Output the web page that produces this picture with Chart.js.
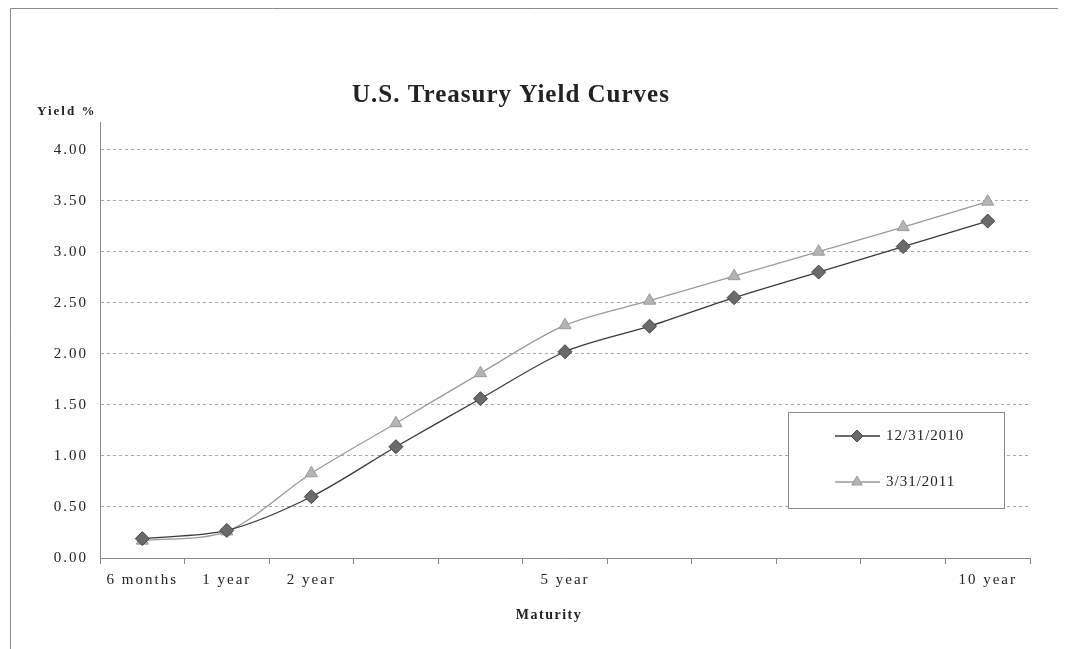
<!DOCTYPE html>
<html>
<head>
<meta charset="utf-8">
<title>U.S. Treasury Yield Curves</title>
<script src="https://cdn.jsdelivr.net/npm/chart.js@4.4.1/dist/chart.umd.min.js"></script>
<style>
  html, body { margin: 0; padding: 0; background: #fff; }
  #wrap { position: relative; width: 1074px; height: 649px; }
</style>
</head>
<body>
<div id="wrap"><canvas id="yield-chart" width="1074" height="649"></canvas></div>
<script>
// Yield curves

const maturities = ['6 months', '1 year', '2 year', '3 year', '4 year', '5 year', '6 year', '7 year', '8 year', '9 year', '10 year'];
const shownLabels = ['6 months', '1 year', '2 year', '5 year', '10 year'];
const yields2010 = [0.19, 0.27, 0.60, 1.09, 1.56, 2.02, 2.27, 2.55, 2.80, 3.05, 3.30];
const yields2011 = [0.17, 0.26, 0.83, 1.32, 1.81, 2.28, 2.52, 2.76, 3.00, 3.24, 3.49];
const yTicks = [0, 0.5, 1, 1.5, 2, 2.5, 3, 3.5, 4];

const SERIF = '"Liberation Serif", "DejaVu Serif", serif';

// frame, titles and boxed legend
const decorations = {
  id: 'decorations',
  beforeDraw(chart) {
    const ctx = chart.ctx;
    ctx.save();
    ctx.fillStyle = '#fff';
    ctx.fillRect(0, 0, chart.width, chart.height);
    ctx.strokeStyle = '#8a8a8a';
    ctx.lineWidth = 1;
    ctx.beginPath();
    ctx.moveTo(10.5, 660);
    ctx.lineTo(10.5, 8.5);
    ctx.lineTo(1058, 8.5);
    ctx.stroke();
    ctx.restore();
    // the scan's tick labels are widely spaced
    ctx.letterSpacing = '2px';
  },
  afterDraw(chart) {
    const ctx = chart.ctx;
    ctx.save();
    ctx.fillStyle = '#222';
    ctx.textBaseline = 'middle';
    ctx.textAlign = 'center';

    ctx.letterSpacing = '1px';
    ctx.font = `bold 25px ${SERIF}`;
    ctx.fillText('U.S. Treasury Yield Curves', 511, 96);

    ctx.letterSpacing = '2px';
    ctx.font = `bold 13px ${SERIF}`;
    ctx.textAlign = 'left';
    ctx.fillText('Yield %', 37, 112);

    ctx.letterSpacing = '1.5px';
    ctx.font = `bold 14px ${SERIF}`;
    ctx.textAlign = 'center';
    ctx.fillText('Maturity', 549, 615);

    // legend
    const bx = 788, by = 412, bw = 216, bh = 96;
    ctx.fillStyle = '#fff';
    ctx.fillRect(bx, by, bw, bh);
    ctx.strokeStyle = '#8a8a8a';
    ctx.lineWidth = 1;
    ctx.strokeRect(bx + 0.5, by + 0.5, bw, bh);

    const rows = [436, 482];
    chart.data.datasets.forEach((ds, i) => {
      const y = rows[i];
      ctx.strokeStyle = ds.borderColor;
      ctx.lineWidth = ds.borderWidth;
      ctx.beginPath();
      ctx.moveTo(835, y);
      ctx.lineTo(880, y);
      ctx.stroke();
      ctx.fillStyle = ds.pointBackgroundColor;
      ctx.strokeStyle = ds.pointBorderColor;
      ctx.lineWidth = 1;
      Chart.helpers.drawPoint(ctx, { pointStyle: ds.pointStyle, radius: ds.pointRadius - 1, rotation: 0, borderWidth: 1 }, 857, y);
      ctx.fillStyle = '#222';
      ctx.letterSpacing = '1px';
      ctx.font = `15px ${SERIF}`;
      ctx.textAlign = 'left';
      ctx.fillText(ds.label, 886, y);
    });
    ctx.restore();
  }
};

const ctx = document.getElementById('yield-chart').getContext('2d');

new Chart(ctx, {
  type: 'line',
  data: {
    labels: maturities,
    datasets: [
      {
        label: '12/31/2010',
        data: yields2010,
        borderColor: '#3a3a3a',
        borderWidth: 1.3,
        pointStyle: 'rectRot',
        pointRadius: 7,
        pointBackgroundColor: '#6a6a6a',
        pointBorderColor: '#444',
        pointBorderWidth: 1,
        tension: 0.3
      },
      {
        label: '3/31/2011',
        data: yields2011,
        borderColor: '#9a9a9a',
        borderWidth: 1.3,
        pointStyle: 'triangle',
        pointRadius: 7,
        pointBackgroundColor: '#b4b4b4',
        pointBorderColor: '#9a9a9a',
        pointBorderWidth: 1,
        tension: 0.3
      }
    ]
  },
  options: {
    responsive: false,
    animation: false,
    layout: { padding: { left: 0, top: 122, right: 44, bottom: 0 } },
    scales: {
      x: {
        offset: true,
        afterFit: (scale) => { scale.height = 91; },
        grid: {
          offset: true,
          drawOnChartArea: false,
          drawTicks: true,
          tickLength: 6,
          color: '#8a8a8a'
        },
        border: { color: '#8a8a8a', width: 1 },
        ticks: {
          autoSkip: false,
          maxRotation: 0,
          padding: 7,
          color: '#222',
          font: { family: SERIF, size: 15 },
          callback(value) {
            const lbl = this.getLabelForValue(value);
            return shownLabels.includes(lbl) ? lbl : '';
          }
        }
      },
      y: {
        min: 0,
        max: 4.27,
        afterFit: (scale) => { scale.width = 100; },
        afterBuildTicks: (scale) => { scale.ticks = yTicks.map(v => ({ value: v })); },
        grid: {
          drawTicks: false,
          color: (c) => c.tick && c.tick.value === 0 ? 'rgba(0,0,0,0)' : '#a8a8a8',
          lineWidth: 1
        },
        border: { color: '#8a8a8a', width: 1, dash: [3, 3] },
        ticks: {
          padding: 12,
          color: '#222',
          font: { family: SERIF, size: 15 },
          callback: (v) => Number(v).toFixed(2)
        }
      }
    },
    plugins: {
      legend: { display: false },
      title: { display: false },
      tooltip: { enabled: false }
    }
  },
  plugins: [decorations]
});
</script>
</body>
</html>
